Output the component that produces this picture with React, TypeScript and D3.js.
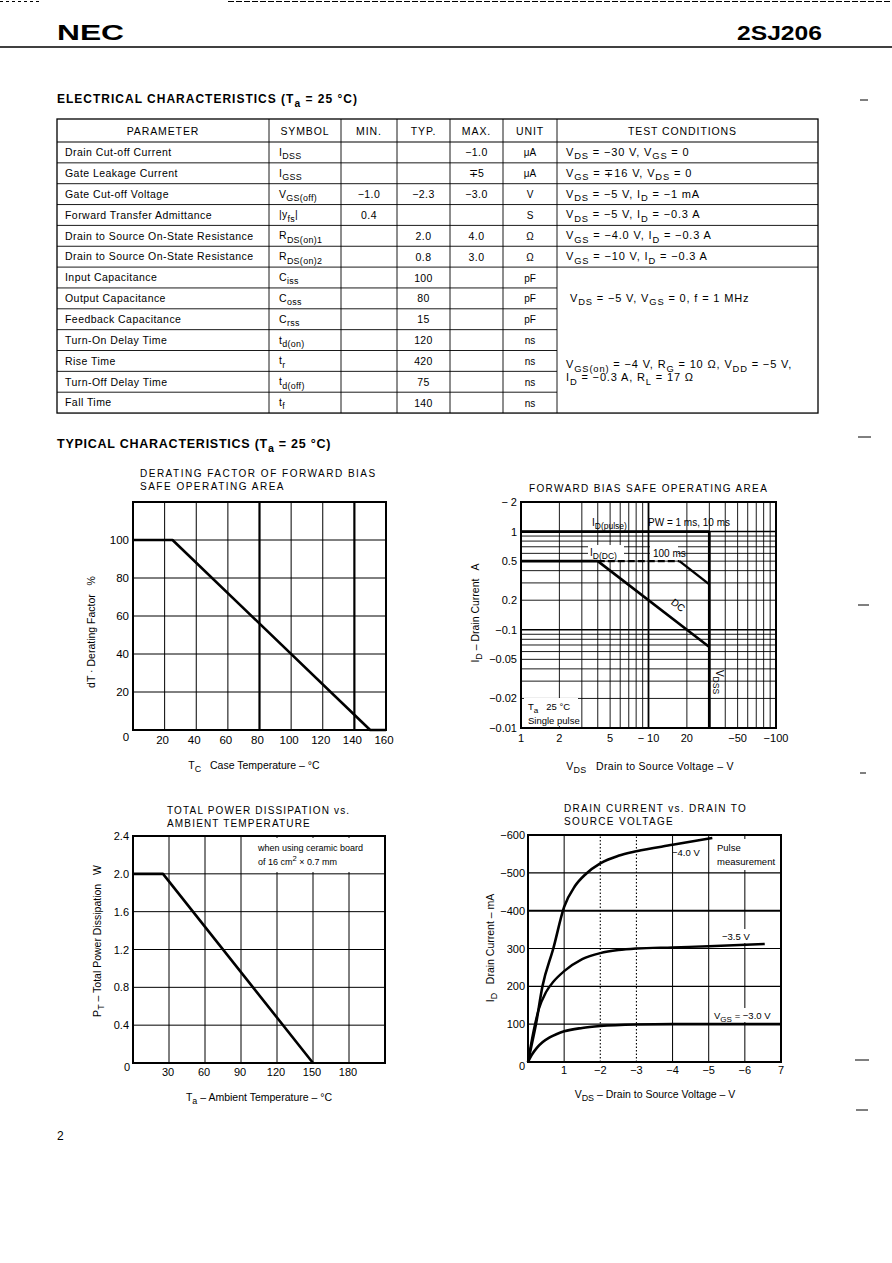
import React from 'react';
import * as d3 from 'd3';

const FONT = '"Liberation Sans", Arial, Helvetica, sans-serif';

// ---------------- Table data ----------------
const tableHeaders = ['PARAMETER', 'SYMBOL', 'MIN.', 'TYP.', 'MAX.', 'UNIT', 'TEST CONDITIONS'];
const paramNames = [
  'Drain Cut-off Current', 'Gate Leakage Current', 'Gate Cut-off Voltage', 'Forward Transfer Admittance',
  'Drain to Source On-State Resistance', 'Drain to Source On-State Resistance', 'Input Capacitance',
  'Output Capacitance', 'Feedback Capacitance', 'Turn-On Delay Time', 'Rise Time', 'Turn-Off Delay Time', 'Fall Time',
];
const paramSymbols = ['I_{DSS}', 'I_{GSS}', 'V_{GS(off)}', '|y_{fs}|', 'R_{DS(on)1}', 'R_{DS(on)2}', 'C_{iss}', 'C_{oss}', 'C_{rss}', 't_{d(on)}', 't_{r}', 't_{d(off)}', 't_{f}'];
const minValues = ['', '', '−1.0', '0.4', '', '', '', '', '', '', '', '', ''];
const typValues = ['', '', '−2.3', '', '2.0', '0.8', '100', '80', '15', '120', '420', '75', '140'];
const maxValues = ['−1.0', '∓5', '−3.0', '', '4.0', '3.0', '', '', '', '', '', '', ''];
const unitValues = ['μA', 'μA', 'V', 'S', 'Ω', 'Ω', 'pF', 'pF', 'pF', 'ns', 'ns', 'ns', 'ns'];
const conditionStart = [0, 1, 2, 3, 4, 5, 6, 9];
const conditionSpan = [1, 1, 1, 1, 1, 1, 3, 4];
const conditionLines = [
  ['V_{DS} = −30 V, V_{GS} = 0'],
  ['V_{GS} = ∓16 V, V_{DS} = 0'],
  ['V_{DS} = −5 V, I_{D} = −1 mA'],
  ['V_{DS} = −5 V, I_{D} = −0.3 A'],
  ['V_{GS} = −4.0 V, I_{D} = −0.3 A'],
  ['V_{GS} = −10 V, I_{D} = −0.3 A'],
  ['V_{DS} = −5 V, V_{GS} = 0, f = 1 MHz'],
  ['V_{GS(on)} = −4 V, R_{G} = 10 Ω, V_{DD} = −5 V,', 'I_{D} = −0.3 A, R_{L} = 17 Ω'],
];

// ---------------- Chart 1: derating factor ----------------
const derateTemp = [0, 25, 150, 160];
const derateFactor = [100, 100, 0, 0];
const derateXTicks = [20, 40, 60, 80, 100, 120, 140, 160];
const derateYTicks = [20, 40, 60, 80, 100];
const derateHeavyX = [80, 140];

// ---------------- Chart 2: forward bias SOA ----------------
const soaPulseVds = [1, 30];
const soaPulseId = [1, 1];
const soaVdssVds = [30, 30];
const soaVdssId = [1, 0.01];
const soaDcVds = [1, 4, 30];
const soaDcId = [0.5, 0.5, 0.0667];
const soa100FlatVds = [4, 17.5];
const soa100FlatId = [0.5, 0.5];
const soa100Vds = [17.5, 30];
const soa100Id = [0.5, 0.29];
const soaXTicks = [1, 2, 5, 10, 20, 50, 100];
const soaXTickLabels = ['1', '2', '5', '− 10', '20', '−50', '−100'];
const soaYTicks = [2, 1, 0.5, 0.2, 0.1, 0.05, 0.02, 0.01];
const soaYTickLabels = ['− 2', '1', '0.5', '0.2', '−0.1', '−0.05', '−0.02', '−0.01'];

// ---------------- Chart 3: total power dissipation ----------------
const ptTemp = [0, 25, 150];
const ptPower = [2.0, 2.0, 0];
const ptXTicks = [30, 60, 90, 120, 150, 180];
const ptYTicks = [0.4, 0.8, 1.2, 1.6, 2.0, 2.4];
const ptYTickLabels = ['0.4', '0.8', '1.2', '1.6', '2.0', '2.4'];

// ---------------- Chart 4: drain current vs VDS ----------------
const vdsGs40 = [0, 0.1, 0.22, 0.4, 0.7, 1.0, 1.3, 1.6, 2.0, 2.5, 3.0, 4.0, 5.1];
const idGs40 = [0, 45, 100, 200, 300, 410, 465, 497, 525, 545, 557, 574, 592];
const vdsGs35 = [0, 0.15, 0.3, 0.5, 0.7, 1.0, 1.5, 2.0, 2.5, 3.0, 4.0, 5.0, 6.55];
const idGs35 = [0, 80, 140, 185, 212, 240, 272, 288, 296, 300, 303, 306, 312];
const vdsGs30 = [0, 0.1, 0.25, 0.4, 0.6, 0.8, 1.0, 1.5, 2.0, 3.0, 4.0, 7.0];
const idGs30 = [0, 18, 38, 52, 65, 74, 81, 90, 95, 99, 100, 100];
const idXTicks = [1, 2, 3, 4, 5, 6, 7];
const idXTickLabels = ['1', '−2', '−3', '−4', '−5', '−6', '7'];
const idYTicks = [100, 200, 300, 400, 500, 600];
const idYTickLabels = ['100', '200', '300', '−400', '−500', '−600'];

// ---------------- helpers ----------------
type Part = { t: string; k: 'n' | 'sub' | 'sup' };
function parseRich(s: string): Part[] {
  const parts: Part[] = [];
  const re = /([_^])\{([^}]*)\}/g;
  let last = 0;
  let m: RegExpExecArray | null;
  while ((m = re.exec(s))) {
    if (m.index > last) parts.push({ t: s.slice(last, m.index), k: 'n' });
    parts.push({ t: m[2], k: m[1] === '_' ? 'sub' : 'sup' });
    last = re.lastIndex;
  }
  if (last < s.length) parts.push({ t: s.slice(last), k: 'n' });
  return parts;
}

function Rich(props: { x: number; y: number; text: string; size?: number; anchor?: string; weight?: any; family?: string; transform?: string; ls?: number }) {
  const { x, y, text, size = 10, anchor = 'start', weight = 'normal', family = FONT, transform, ls } = props;
  const parts = parseRich(text);
  let off = 0;
  return (
    <text x={x} y={y} fontSize={size} textAnchor={anchor as any} fontWeight={weight} fontFamily={family}
      transform={transform} letterSpacing={ls} style={{ whiteSpace: 'pre' }} fill="#000">
      {parts.map((p, i) => {
        const target = p.k === 'sub' ? size * 0.32 : p.k === 'sup' ? -size * 0.42 : 0;
        const dy = target - off;
        off = target;
        return (
          <tspan key={i} dy={dy} fontSize={p.k === 'n' ? size : size * 0.85}>{p.t}</tspan>
        );
      })}
    </text>
  );
}

function pathOf(xs: number[], ys: number[], sx: any, sy: any, curve?: any): string {
  const gen = d3.line<number>().x((i) => sx(xs[i])).y((i) => sy(ys[i]));
  if (curve) gen.curve(curve);
  return gen(xs.map((_, i) => i)) as string;
}

// ---------------- Table ----------------
function Table() {
  const colX = [57, 269, 341, 397, 450, 503, 557, 818];
  const top = 119;
  const headBottom = 142;
  const rowH = 20.85;
  const n = paramNames.length;
  const bottom = headBottom + n * rowH;
  const rc = (i: number) => headBottom + rowH * (i + 0.5);
  const cc = (c: number) => (colX[c] + colX[c + 1]) / 2;
  const lines: any[] = [];
  for (let k = 1; k < n; k++) {
    const yy = headBottom + k * rowH;
    const full = k <= 6;
    lines.push(<line key={'h' + k} x1={colX[0]} x2={full ? colX[7] : colX[6]} y1={yy} y2={yy} stroke="#000" strokeWidth={0.9} />);
  }
  return (
    <g>
      <rect x={colX[0]} y={top} width={colX[7] - colX[0]} height={bottom - top} fill="none" stroke="#000" strokeWidth={1.3} />
      <line x1={colX[0]} x2={colX[7]} y1={headBottom} y2={headBottom} stroke="#000" strokeWidth={1.1} />
      {colX.slice(1, 7).map((xx, i) => (
        <line key={'v' + i} x1={xx} x2={xx} y1={top} y2={bottom} stroke="#000" strokeWidth={0.9} />
      ))}
      {lines}
      {tableHeaders.map((h, c) => (
        <text key={'th' + c} x={cc(c) + (c === 6 ? -5 : 0)} y={135} fontSize={10.5} fontFamily={FONT} textAnchor="middle" letterSpacing={0.9}>{h}</text>
      ))}
      {paramNames.map((p, i) => (
        <text key={'p' + i} x={65} y={rc(i) + 3.8} fontSize={10.5} fontFamily={FONT} letterSpacing={0.45}>{p}</text>
      ))}
      {paramSymbols.map((s, i) => (
        <Rich key={'s' + i} x={279} y={rc(i) + 3.5} text={s} size={10.5} ls={0.3} />
      ))}
      {minValues.map((v, i) => v && <text key={'mi' + i} x={cc(2)} y={rc(i) + 4} fontSize={10.5} fontFamily={FONT} textAnchor="middle" letterSpacing={0.4}>{v}</text>)}
      {typValues.map((v, i) => v && <text key={'ty' + i} x={cc(3)} y={rc(i) + 4} fontSize={10.5} fontFamily={FONT} textAnchor="middle" letterSpacing={0.4}>{v}</text>)}
      {maxValues.map((v, i) => v && <text key={'ma' + i} x={cc(4)} y={rc(i) + 4} fontSize={10.5} fontFamily={FONT} textAnchor="middle" letterSpacing={0.4}>{v}</text>)}
      {unitValues.map((v, i) => <text key={'u' + i} x={cc(5)} y={rc(i) + 4} fontSize={10} fontFamily={FONT} textAnchor="middle">{v}</text>)}
      {conditionLines.map((ls, g) => {
        const start = conditionStart[g];
        const span = conditionSpan[g];
        const center = headBottom + rowH * (start + span / 2);
        const lh = 13;
        return ls.map((t, j) => (
          <Rich key={'c' + g + '_' + j} x={span > 1 && ls.length === 1 ? 570 : 566}
            y={center + 3.5 - ((ls.length - 1) * lh) / 2 + j * lh} text={t} size={11} ls={0.85} />
        ));
      })}
    </g>
  );
}

// ---------------- Chart 1 ----------------
function DerateChart() {
  const x = d3.scaleLinear().domain([0, 160]).range([133, 386]);
  const y = d3.scaleLinear().domain([0, 120]).range([730, 502]);
  return (
    <g>
      <text x={140} y={477} fontSize={10} fontFamily={FONT} letterSpacing={1.5}>DERATING FACTOR OF FORWARD BIAS</text>
      <text x={140} y={490} fontSize={10} fontFamily={FONT} letterSpacing={1.5}>SAFE OPERATING AREA</text>
      {derateXTicks.slice(0, -1).map((t) => (
        <line key={'gx' + t} x1={x(t)} x2={x(t)} y1={y(0)} y2={y(120)} stroke="#000" strokeWidth={derateHeavyX.includes(t) ? 2.2 : 1} />
      ))}
      {derateYTicks.map((t) => (
        <line key={'gy' + t} x1={x(0)} x2={x(160)} y1={y(t)} y2={y(t)} stroke="#000" strokeWidth={1} />
      ))}
      <path d={pathOf(derateTemp, derateFactor, x, y)} fill="none" stroke="#000" strokeWidth={2.6} strokeLinejoin="round" />
      <rect x={x(0)} y={y(120)} width={x(160) - x(0)} height={y(0) - y(120)} fill="none" stroke="#000" strokeWidth={2} />
      {derateYTicks.map((t) => (
        <text key={'ty' + t} x={129} y={y(t) + 4} fontSize={11.5} fontFamily={FONT} textAnchor="end">{t}</text>
      ))}
      <text x={126} y={741} fontSize={11.5} fontFamily={FONT} textAnchor="middle">0</text>
      {derateXTicks.map((t) => (
        <text key={'tx' + t} x={x(t) - 2} y={744} fontSize={11.5} fontFamily={FONT} textAnchor="middle">{t}</text>
      ))}
      <Rich x={254} y={769} text={'T_{C}   Case Temperature – °C'} size={10.5} anchor="middle" />
      <Rich x={0} y={0} text={'dT · Derating Factor   %'} size={10.5} anchor="middle" transform="translate(95,632) rotate(-90)" />
    </g>
  );
}

// ---------------- Chart 2 ----------------
function SoaChart() {
  const x = d3.scaleLog().domain([1, 100]).range([521, 776]);
  const y = d3.scaleLog().domain([0.01, 2]).range([728, 502]);
  const xg = x.ticks().filter((t) => t > 1 && t < 100);
  const yg = y.ticks().filter((t) => t > 0.01 && t < 2);
  const majorX = [10];
  const majorY = [0.1, 1];
  return (
    <g>
      <text x={529} y={492} fontSize={10} fontFamily={FONT} letterSpacing={1.35}>FORWARD BIAS SAFE OPERATING AREA</text>
      {xg.map((t) => (
        <line key={'gx' + t} x1={x(t)} x2={x(t)} y1={y(0.01)} y2={y(2)} stroke="#000" strokeWidth={majorX.includes(t) ? 1.8 : 0.9} />
      ))}
      {yg.map((t) => (
        <line key={'gy' + t} x1={x(1)} x2={x(100)} y1={y(t)} y2={y(t)} stroke="#000" strokeWidth={majorY.some((m) => Math.abs(m - t) < 1e-9) ? 1.4 : 0.9} />
      ))}
      <rect x={524} y={698} width={54} height={28} fill="#fff" />
      <rect x={588} y={545} width={36} height={15} fill="#fff" />
      <rect x={650} y={545} width={28} height={15} fill="#fff" />
      <path d={pathOf(soaPulseVds, soaPulseId, x, y)} fill="none" stroke="#000" strokeWidth={2.8} />
      <path d={pathOf(soaVdssVds, soaVdssId, x, y)} fill="none" stroke="#000" strokeWidth={2.8} />
      <path d={pathOf(soaDcVds, soaDcId, x, y)} fill="none" stroke="#000" strokeWidth={2.6} strokeLinejoin="round" />
      <path d={pathOf(soa100FlatVds, soa100FlatId, x, y)} fill="none" stroke="#000" strokeWidth={2.4} strokeDasharray="7,3" />
      <path d={pathOf(soa100Vds, soa100Id, x, y)} fill="none" stroke="#000" strokeWidth={2.4} />
      <rect x={x(1)} y={y(2)} width={x(100) - x(1)} height={y(0.01) - y(2)} fill="none" stroke="#000" strokeWidth={2} />
      <Rich x={592} y={526} text={'I_{D(pulse)}'} size={10} />
      <Rich x={648} y={526} text={'PW = 1 ms, 10 ms'} size={10} />
      <Rich x={590} y={556} text={'I_{D(DC)}'} size={10} />
      <text x={653} y={557} fontSize={10} fontFamily={FONT}>100 ms</text>
      <text x={0} y={0} fontSize={10} fontFamily={FONT} textAnchor="middle" transform="translate(676,608) rotate(37.6)">DC</text>
      <Rich x={0} y={0} text={'V_{DSS}'} size={10} anchor="middle" transform="translate(716,682) rotate(90)" />
      <Rich x={528} y={710} text={'T_{a}   25 °C'} size={9.5} />
      <text x={528} y={724} fontSize={9.5} fontFamily={FONT}>Single pulse</text>
      {soaYTicks.map((t, i) => (
        <text key={'ty' + t} x={517} y={y(t) + 4} fontSize={11} fontFamily={FONT} textAnchor="end">{soaYTickLabels[i]}</text>
      ))}
      {soaXTicks.map((t, i) => (
        <text key={'tx' + t} x={x(t)} y={742} fontSize={11} fontFamily={FONT} textAnchor="middle">{soaXTickLabels[i]}</text>
      ))}
      <Rich x={650} y={770} text={'V_{DS}   Drain to Source Voltage – V'} size={10.5} anchor="middle" ls={0.3} />
      <Rich x={0} y={0} text={'I_{D} – Drain Current   A'} size={10.5} anchor="middle" transform="translate(479,613) rotate(-90)" />
    </g>
  );
}

// ---------------- Chart 3 ----------------
function PowerChart() {
  const x = d3.scaleLinear().domain([0, 210]).range([133, 385]);
  const y = d3.scaleLinear().domain([0, 2.4]).range([1063, 836]);
  return (
    <g>
      <text x={167} y={814} fontSize={10} fontFamily={FONT} letterSpacing={1.17}>TOTAL POWER DISSIPATION vs.</text>
      <text x={167} y={827} fontSize={10} fontFamily={FONT} letterSpacing={1.17}>AMBIENT TEMPERATURE</text>
      {ptXTicks.map((t) => (
        <line key={'gx' + t} x1={x(t)} x2={x(t)} y1={y(0)} y2={y(2.4)} stroke="#000" strokeWidth={1} />
      ))}
      {ptYTicks.slice(0, -1).map((t) => (
        <line key={'gy' + t} x1={x(0)} x2={x(210)} y1={y(t)} y2={y(t)} stroke="#000" strokeWidth={1} />
      ))}
      <rect x={254} y={838} width={130} height={34} fill="#fff" />
      <path d={pathOf(ptTemp, ptPower, x, y)} fill="none" stroke="#000" strokeWidth={2.6} strokeLinejoin="round" />
      <rect x={x(0)} y={y(2.4)} width={x(210) - x(0)} height={y(0) - y(2.4)} fill="none" stroke="#000" strokeWidth={2} />
      <text x={258} y={851} fontSize={9} fontFamily={FONT}>when using ceramic board</text>
      <Rich x={258} y={865} text={'of 16 cm^{2} × 0.7 mm'} size={9} />
      {ptYTicks.map((t, i) => (
        <text key={'ty' + t} x={129} y={y(t) + 4} fontSize={11} fontFamily={FONT} textAnchor="end">{ptYTickLabels[i]}</text>
      ))}
      <text x={127} y={1071} fontSize={11} fontFamily={FONT} textAnchor="middle">0</text>
      {ptXTicks.map((t) => (
        <text key={'tx' + t} x={x(t) - 1} y={1076} fontSize={11} fontFamily={FONT} textAnchor="middle">{t}</text>
      ))}
      <Rich x={259} y={1101} text={'T_{a} – Ambient Temperature – °C'} size={10.5} anchor="middle" />
      <Rich x={0} y={0} text={'P_{T} – Total Power Dissipation   W'} size={10.5} anchor="middle" transform="translate(101,941) rotate(-90)" />
    </g>
  );
}

// ---------------- Chart 4 ----------------
function DrainChart() {
  const x = d3.scaleLinear().domain([0, 7]).range([528, 781]);
  const y = d3.scaleLinear().domain([0, 600]).range([1062, 835]);
  const dotted = [2, 3];
  return (
    <g>
      <text x={564} y={812} fontSize={10} fontFamily={FONT} letterSpacing={1.34}>DRAIN CURRENT vs. DRAIN TO</text>
      <text x={564} y={825} fontSize={10} fontFamily={FONT} letterSpacing={1.34}>SOURCE VOLTAGE</text>
      {idXTicks.slice(0, -1).map((t) => (
        <line key={'gx' + t} x1={x(t)} x2={x(t)} y1={y(0)} y2={y(600)} stroke="#000"
          strokeWidth={dotted.includes(t) ? 1.1 : 1} strokeDasharray={dotted.includes(t) ? '1.5,2' : undefined} />
      ))}
      {idYTicks.slice(0, -1).map((t) => (
        <line key={'gy' + t} x1={x(0)} x2={x(7)} y1={y(t)} y2={y(t)} stroke="#000" strokeWidth={t === 400 ? 2 : 1.2} />
      ))}
      <rect x={714} y={839} width={66} height={31} fill="#fff" />
      <rect x={719} y={929} width={38} height={14} fill="#fff" />
      <rect x={712} y={1008} width={66} height={14} fill="#fff" />
      <path d={pathOf(vdsGs40, idGs40, x, y, d3.curveMonotoneX)} fill="none" stroke="#000" strokeWidth={2.6} />
      <path d={pathOf(vdsGs35, idGs35, x, y, d3.curveMonotoneX)} fill="none" stroke="#000" strokeWidth={2.4} />
      <path d={pathOf(vdsGs30, idGs30, x, y, d3.curveMonotoneX)} fill="none" stroke="#000" strokeWidth={2.6} />
      <rect x={x(0)} y={y(600)} width={x(7) - x(0)} height={y(0) - y(600)} fill="none" stroke="#000" strokeWidth={2} />
      <text x={672} y={856} fontSize={9.5} fontFamily={FONT}>−4.0 V</text>
      <text x={717} y={851} fontSize={9.5} fontFamily={FONT}>Pulse</text>
      <text x={717} y={865} fontSize={9.5} fontFamily={FONT}>measurement</text>
      <text x={722} y={940} fontSize={9.5} fontFamily={FONT}>−3.5 V</text>
      <Rich x={714} y={1019} text={'V_{GS} = −3.0 V'} size={9.5} />
      {idYTicks.map((t, i) => (
        <text key={'ty' + t} x={525} y={y(t) + 4} fontSize={11} fontFamily={FONT} textAnchor="end">{idYTickLabels[i]}</text>
      ))}
      <text x={522} y={1070} fontSize={11} fontFamily={FONT} textAnchor="middle">0</text>
      {idXTicks.map((t, i) => (
        <text key={'tx' + t} x={x(t)} y={1074} fontSize={11} fontFamily={FONT} textAnchor="middle">{idXTickLabels[i]}</text>
      ))}
      <Rich x={655} y={1098} text={'V_{DS} – Drain to Source Voltage – V'} size={10.5} anchor="middle" />
      <Rich x={0} y={0} text={'I_{D}   Drain Current – mA'} size={10.5} anchor="middle" transform="translate(494,948) rotate(-90)" />
    </g>
  );
}

export default function App() {
  return (
    <svg width={892} height={1263} viewBox="0 0 892 1263"
      style={{ position: 'absolute', left: 0, top: 0, background: '#fff' }} fontFamily={FONT}>
      <rect x={0} y={0} width={892} height={1263} fill="#fff" />
      <line x1={0} x2={42} y1={1.5} y2={1.5} stroke="#000" strokeWidth={1} strokeDasharray="3,3" />
      <line x1={228} x2={892} y1={1.5} y2={1.5} stroke="#000" strokeWidth={1} strokeDasharray="6,2" />
      <text x={57} y={40} fontSize={22} fontWeight="bold" fontFamily={FONT} textLength={67} lengthAdjust="spacingAndGlyphs">NEC</text>
      <text x={737} y={40} fontSize={20} fontWeight="bold" fontFamily={FONT} textLength={85} lengthAdjust="spacingAndGlyphs">2SJ206</text>
      <line x1={0} x2={892} y1={47} y2={47} stroke="#000" strokeWidth={1.3} />
      <Rich x={57} y={103} text={'ELECTRICAL CHARACTERISTICS (T_{a} = 25 °C)'} size={12} weight="bold" ls={1.0} />
      <Table />
      <Rich x={57} y={448} text={'TYPICAL CHARACTERISTICS (T_{a} = 25 °C)'} size={12.5} weight="bold" ls={0.75} />
      <DerateChart />
      <SoaChart />
      <PowerChart />
      <DrainChart />
      <text x={57} y={1140} fontSize={12} fontFamily={FONT}>2</text>
      {[[860, 868, 100], [858, 871, 437], [858, 869, 605], [860, 866, 773], [855, 869, 1060], [856, 868, 1110]].map((d, i) => (
        <line key={'m' + i} x1={d[0]} x2={d[1]} y1={d[2]} y2={d[2]} stroke="#000" strokeWidth={1} />
      ))}
    </svg>
  );
}
